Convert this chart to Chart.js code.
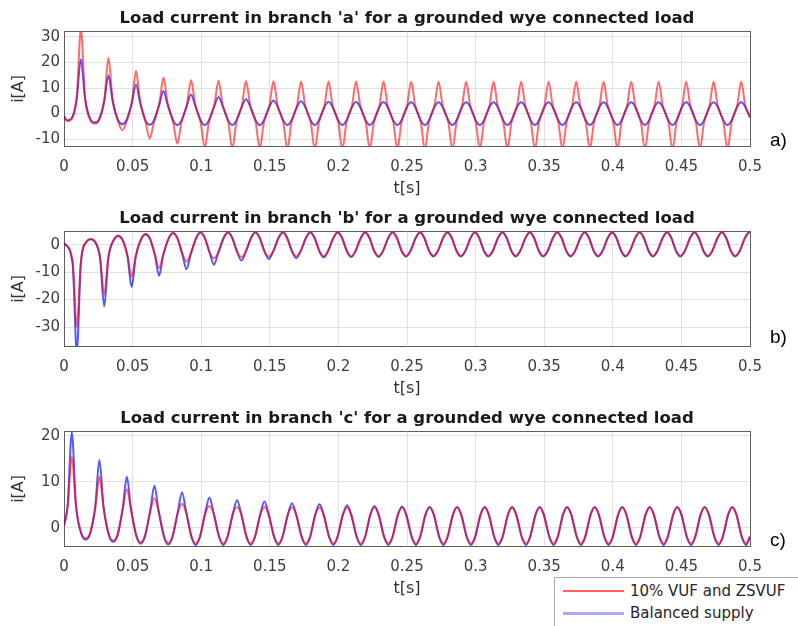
<!DOCTYPE html>
<html>
<head>
<meta charset="utf-8">
<script src="https://cdn.jsdelivr.net/npm/chart.js@4.4.1/dist/chart.umd.min.js"></script>
<style>
  html, body { margin:0; padding:0; background:#fff; width:798px; height:626px; overflow:hidden; font-family:"DejaVu Sans", sans-serif; }
  .wrap { position:absolute; left:0; width:798px; height:200px; }
  .tag { position:absolute; left:770px; font-family:"Liberation Sans", Arial, sans-serif; font-size:19px; line-height:20px; color:#000; }
  #legend { position:absolute; left:554px; top:577px; width:270px; height:60px; border:1px solid #a8a8a8; background:#fff; }
  #legend .sw { position:absolute; left:8px; width:61px; }
  #legend .lt { position:absolute; left:75px; font-family:"DejaVu Sans", sans-serif; font-size:15px; line-height:18px; color:#262626; white-space:nowrap; }
</style>
</head>
<body>
<div class="wrap" style="top:0"><canvas id="ca" width="798" height="200"></canvas></div>
<div class="wrap" style="top:200px"><canvas id="cb" width="798" height="200"></canvas></div>
<div class="wrap" style="top:400px"><canvas id="cc" width="798" height="200"></canvas></div>
<div class="tag" style="top:130px">a)</div>
<div class="tag" style="top:327px">b)</div>
<div class="tag" style="top:530px">c)</div>
<div id="legend">
  <div class="sw" style="top:12px;height:2px;background:rgba(255,40,40,0.75)"></div>
  <div class="lt" style="top:4px">10% VUF and ZSVUF</div>
  <div class="sw" style="top:34px;height:3px;background:#a9a9ff"></div>
  <div class="lt" style="top:26px">Balanced supply</div>
</div>
<script>
// ---------- shared axis data ----------
const xTicks = [0, 0.05, 0.1, 0.15, 0.2, 0.25, 0.3, 0.35, 0.4, 0.45, 0.5];
const xTickLabels = ['0', '0.05', '0.1', '0.15', '0.2', '0.25', '0.3', '0.35', '0.4', '0.45', '0.5'];
const seriesNames = ['10% VUF and ZSVUF', 'Balanced supply'];
const SPIKE_HALF = 0.003; // half-width of the sharp current spikes (s)

// ---------- (a) branch 'a' ----------
const aTitle = "Load current in branch 'a' for a grounded wye connected load";
const aYTicks = [-10, 0, 10, 20, 30];
const aPeakT = [0.0123,0.0324,0.0525,0.0725,0.0926,0.1126,0.1327,0.1527,0.1728,0.1928,0.2129,0.2329,0.253,0.273,0.2931,0.3131,0.3332,0.3532,0.3733,0.3933,0.4134,0.4334,0.4535,0.4735,0.4936];
const aTroughT = [0.0023,0.0224,0.0425,0.0625,0.0826,0.1026,0.1227,0.1427,0.1628,0.1828,0.2029,0.2229,0.243,0.263,0.2831,0.3031,0.3232,0.3432,0.3633,0.3833,0.4034,0.4234,0.4435,0.4635,0.4836];
const aRedPeak = [33,21.8,16.7,14.1,13.1,12.8,12.7,12.6,12.5,12.5,12.5,12.5,12.4,12.4,12.4,12.4,12.4,12.4,12.4,12.4,12.4,12.4,12.4,12.4,12.4];
const aRedPeakSh = [6.5,5.5,4.6,4.0,3.6,3.4,3.2,3.1,3.0,3.0,3.0,3.0,3.0,3.0,3.0,3.0,3.0,3.0,3.0,3.0,3.0,3.0,3.0,3.0,3.0];
const aRedTrough = [-3.0,-3.9,-6.5,-9.8,-11.8,-13.2,-13.6,-13.8,-13.9,-14,-14,-14,-14,-14,-14,-14,-14,-14,-14,-14,-14,-14,-14,-14,-14];
const aRedTroughSh = [-2.3,-2.8,-3.3,-3.5,-3.5,-3.4,-3.3,-3.3,-3.3,-3.3,-3.3,-3.3,-3.3,-3.3,-3.3,-3.3,-3.3,-3.3,-3.3,-3.3,-3.3,-3.3,-3.3,-3.3,-3.3];
const aBluePeak = [21.3,15.0,11.4,8.8,7.5,6.5,5.6,5.1,4.8,4.6,4.5,4.5,4.4,4.4,4.4,4.4,4.4,4.4,4.4,4.4,4.4,4.4,4.4,4.4,4.4];
const aBluePeakSh = [6.0,5.0,4.2,3.6,3.2,3.0,2.8,2.7,2.6,2.6,2.6,2.6,2.6,2.6,2.6,2.6,2.6,2.6,2.6,2.6,2.6,2.6,2.6,2.6,2.6];
const aBlueTrough = [-2.6,-3.5,-4.2,-4.4,-4.5,-4.5,-4.5,-4.5,-4.5,-4.5,-4.5,-4.5,-4.5,-4.5,-4.5,-4.5,-4.5,-4.5,-4.5,-4.5,-4.5,-4.5,-4.5,-4.5,-4.5];
const aBlueTroughSh = [-2.0,-2.4,-2.6,-2.7,-2.7,-2.7,-2.7,-2.7,-2.7,-2.7,-2.7,-2.7,-2.7,-2.7,-2.7,-2.7,-2.7,-2.7,-2.7,-2.7,-2.7,-2.7,-2.7,-2.7,-2.7];
const aStartEnd = { red: [-1.2, -1.5], blue: [-1.0, -1.5] };

// ---------- (b) branch 'b' ----------
const bTitle = "Load current in branch 'b' for a grounded wye connected load";
const bYTicks = [-30, -20, -10, 0];
const bPeakT = [0.0195,0.0395,0.0595,0.0795,0.0995,0.1195,0.1395,0.1595,0.1795,0.1995,0.2195,0.2395,0.2595,0.2795,0.2995,0.3195,0.3395,0.3595,0.3795,0.3995,0.4195,0.4395,0.4595,0.4795,0.4995];
const bTroughT = [0.0093,0.0293,0.0493,0.0693,0.0893,0.1093,0.1293,0.1493,0.1693,0.1893,0.2093,0.2293,0.2493,0.2693,0.2893,0.3093,0.3293,0.3493,0.3693,0.3893,0.4093,0.4293,0.4493,0.4693,0.4893];
const bRedPeak = [2.1,3.3,3.9,4.3,4.4,4.5,4.5,4.5,4.5,4.5,4.5,4.5,4.5,4.5,4.5,4.5,4.5,4.5,4.5,4.5,4.5,4.5,4.5,4.5,4.5];
const bRedPeakSh = [1.2,2.0,2.4,2.6,2.6,2.6,2.6,2.6,2.6,2.6,2.6,2.6,2.6,2.6,2.6,2.6,2.6,2.6,2.6,2.6,2.6,2.6,2.6,2.6,2.6];
const bRedTrough = [-30.0,-18.2,-11.8,-8.5,-6.1,-4.9,-4.5,-4.3,-4.3,-4.3,-4.3,-4.3,-4.3,-4.3,-4.3,-4.3,-4.3,-4.3,-4.3,-4.3,-4.3,-4.3,-4.3,-4.3,-4.3];
const bRedTroughSh = [-6.0,-4.5,-4.0,-3.6,-3.3,-3.0,-2.7,-2.6,-2.5,-2.5,-2.5,-2.5,-2.5,-2.5,-2.5,-2.5,-2.5,-2.5,-2.5,-2.5,-2.5,-2.5,-2.5,-2.5,-2.5];
const bBluePeak = [2.0,3.2,3.8,4.2,4.4,4.4,4.4,4.4,4.4,4.4,4.4,4.4,4.4,4.4,4.4,4.4,4.4,4.4,4.4,4.4,4.4,4.4,4.4,4.4,4.4];
const bBluePeakSh = [1.1,1.9,2.3,2.5,2.6,2.6,2.6,2.6,2.6,2.6,2.6,2.6,2.6,2.6,2.6,2.6,2.6,2.6,2.6,2.6,2.6,2.6,2.6,2.6,2.6];
const bBlueTrough = [-39,-22.5,-15.4,-11.3,-8.9,-7.3,-5.8,-5.2,-4.9,-4.6,-4.5,-4.4,-4.3,-4.2,-4.2,-4.2,-4.2,-4.2,-4.2,-4.2,-4.2,-4.2,-4.2,-4.2,-4.2];
const bBlueTroughSh = [-7.0,-5.0,-4.3,-3.9,-3.6,-3.2,-2.8,-2.7,-2.6,-2.5,-2.5,-2.5,-2.5,-2.5,-2.5,-2.5,-2.5,-2.5,-2.5,-2.5,-2.5,-2.5,-2.5,-2.5,-2.5];
const bStartEnd = { red: [0.6, 4.4], blue: [0.6, 4.4] };

// ---------- (c) branch 'c' ----------
const cTitle = "Load current in branch 'c' for a grounded wye connected load";
const cYTicks = [0, 10, 20];
const cPeakT = [0.0057,0.0258,0.0458,0.0659,0.086,0.106,0.1261,0.1461,0.1662,0.1862,0.2063,0.2263,0.2464,0.2665,0.2865,0.3066,0.3266,0.3467,0.3667,0.3868,0.4069,0.4269,0.447,0.467,0.4871];
const cTroughT = [0.0158,0.0359,0.0559,0.076,0.096,0.1161,0.1361,0.1562,0.1763,0.1963,0.2164,0.2364,0.2565,0.2765,0.2966,0.3166,0.3367,0.3568,0.3768,0.3969,0.4169,0.437,0.457,0.4771,0.4971];
const cRedPeak = [15.5,11.1,8.4,6.4,5.2,4.7,4.5,4.5,4.45,4.4,4.4,4.4,4.4,4.4,4.4,4.4,4.4,4.4,4.4,4.4,4.4,4.4,4.4,4.4,4.4];
const cRedPeakSh = [4.8,4.4,4.0,3.6,3.3,3.1,3.0,2.9,2.85,2.85,2.85,2.85,2.85,2.85,2.85,2.85,2.85,2.85,2.85,2.85,2.85,2.85,2.85,2.85,2.85];
const cRedTrough = [-2.3,-2.8,-3.2,-3.3,-3.4,-3.4,-3.4,-3.4,-3.4,-3.4,-3.4,-3.4,-3.4,-3.4,-3.4,-3.4,-3.4,-3.4,-3.4,-3.4,-3.4,-3.4,-3.4,-3.4,-3.4];
const cRedTroughSh = [-1.4,-1.7,-1.9,-2.0,-2.0,-2.0,-2.0,-2.0,-2.0,-2.0,-2.0,-2.0,-2.0,-2.0,-2.0,-2.0,-2.0,-2.0,-2.0,-2.0,-2.0,-2.0,-2.0,-2.0,-2.0];
const cBluePeak = [20.8,14.8,11.1,9.2,7.7,6.6,6.0,5.7,5.3,5.1,4.9,4.7,4.6,4.5,4.5,4.5,4.5,4.5,4.5,4.5,4.5,4.5,4.5,4.5,4.5];
const cBluePeakSh = [5.0,4.6,4.2,3.8,3.5,3.3,3.1,3.0,2.9,2.9,2.85,2.85,2.85,2.85,2.85,2.85,2.85,2.85,2.85,2.85,2.85,2.85,2.85,2.85,2.85];
const cBlueTrough = [-2.6,-3.1,-3.5,-3.7,-3.8,-3.8,-3.8,-3.8,-3.8,-3.8,-3.8,-3.8,-3.8,-3.8,-3.8,-3.8,-3.8,-3.8,-3.8,-3.8,-3.8,-3.8,-3.8,-3.8,-3.8];
const cBlueTroughSh = [-1.5,-1.8,-2.0,-2.1,-2.1,-2.1,-2.1,-2.1,-2.1,-2.1,-2.1,-2.1,-2.1,-2.1,-2.1,-2.1,-2.1,-2.1,-2.1,-2.1,-2.1,-2.1,-2.1,-2.1,-2.1];
const cStartEnd = { red: [0.3, -1.9], blue: [0.5, -2.0] };

// ---------- assembling the point tables ----------
function buildSeries(peakT, troughT, peaks, peakSh, troughs, troughSh, startEnd) {
  const pts = [];
  peakT.forEach((t, i) => {
    pts.push({ x: t - SPIKE_HALF, y: peakSh[i] }, { x: t, y: peaks[i] }, { x: t + SPIKE_HALF, y: peakSh[i] });
  });
  troughT.forEach((t, i) => {
    pts.push({ x: t - SPIKE_HALF, y: troughSh[i] }, { x: t, y: troughs[i] }, { x: t + SPIKE_HALF, y: troughSh[i] });
  });
  const inner = pts.filter(p => p.x > 0 && p.x < 0.5).sort((p, q) => p.x - q.x);
  return [{ x: 0, y: startEnd[0] }, ...inner, { x: 0.5, y: startEnd[1] }];
}

Chart.defaults.font.family = '"DejaVu Sans", sans-serif';
const GRID = '#e2e2e2';
const BOX = '#5e5e5e';
const TXT = '#3d3d3d';

function makeChart(id, title, yMin, yMax, yTicks, redPts, bluePts) {
  return new Chart(document.getElementById(id), {
    type: 'line',
    data: {
      datasets: [
        { label: seriesNames[0], data: redPts, borderColor: 'rgba(255,0,0,0.58)', borderWidth: 2,
          pointRadius: 0, cubicInterpolationMode: 'monotone', clip: 0, xAxisID: 'x', yAxisID: 'y' },
        { label: seriesNames[1], data: bluePts, borderColor: 'rgba(30,30,255,0.74)', borderWidth: 2,
          pointRadius: 0, cubicInterpolationMode: 'monotone', clip: 0, xAxisID: 'x', yAxisID: 'y' }
      ]
    },
    options: {
      responsive: false,
      animation: false,
      devicePixelRatio: 1,
      layout: { padding: 0 },
      plugins: {
        legend: { display: false },
        tooltip: { enabled: false },
        title: { display: true, text: title, fullSize: false, color: '#1a1a1a',
                 font: { size: 16.5, weight: 'bold' }, padding: { top: 9, bottom: 3 } }
      },
      scales: {
        x: {
          type: 'linear', position: 'bottom', min: 0, max: 0.5,
          afterFit: s => { s.height = 54; },
          afterBuildTicks: s => { s.ticks = xTicks.map(v => ({ value: v })); },
          ticks: { callback: (v, i) => xTickLabels[i], font: { size: 15 }, color: TXT, padding: 12, maxRotation: 0, autoSkip: false },
          grid: { color: GRID, drawTicks: false },
          border: { color: BOX, width: 1 },
          title: { display: true, text: 't[s]', font: { size: 16 }, color: '#333', padding: { top: 0, bottom: 2 } }
        },
        y: {
          type: 'linear', position: 'left', min: yMin, max: yMax,
          afterFit: s => { s.width = 64; },
          afterBuildTicks: s => { s.ticks = yTicks.map(v => ({ value: v })); },
          ticks: { callback: v => String(v), font: { size: 15 }, color: TXT, padding: 4 },
          grid: { color: GRID, drawTicks: false },
          border: { color: BOX, width: 1 },
          title: { display: true, text: 'i[A]', font: { size: 16 }, color: '#333', padding: { top: 9, bottom: 0 } }
        },
        xTop: {
          type: 'linear', position: 'top', min: 0, max: 0.5,
          afterFit: s => { s.height = 0; },
          ticks: { display: false }, grid: { display: false, drawTicks: false },
          border: { display: true, color: BOX, width: 1 }
        },
        yRight: {
          type: 'linear', position: 'right', min: 0, max: 1,
          afterFit: s => { s.width = 48; },
          ticks: { display: false }, grid: { display: false, drawTicks: false },
          border: { display: true, color: BOX, width: 1 }
        }
      }
    }
  });
}

makeChart('ca', aTitle, -12.7, 32, aYTicks,
  buildSeries(aPeakT, aTroughT, aRedPeak, aRedPeakSh, aRedTrough, aRedTroughSh, aStartEnd.red),
  buildSeries(aPeakT, aTroughT, aBluePeak, aBluePeakSh, aBlueTrough, aBlueTroughSh, aStartEnd.blue));
makeChart('cb', bTitle, -36.9, 4.7, bYTicks,
  buildSeries(bPeakT, bTroughT, bRedPeak, bRedPeakSh, bRedTrough, bRedTroughSh, bStartEnd.red),
  buildSeries(bPeakT, bTroughT, bBluePeak, bBluePeakSh, bBlueTrough, bBlueTroughSh, bStartEnd.blue));
makeChart('cc', cTitle, -4.0, 20.9, cYTicks,
  buildSeries(cPeakT, cTroughT, cRedPeak, cRedPeakSh, cRedTrough, cRedTroughSh, cStartEnd.red),
  buildSeries(cPeakT, cTroughT, cBluePeak, cBluePeakSh, cBlueTrough, cBlueTroughSh, cStartEnd.blue));
</script>
</body>
</html>
